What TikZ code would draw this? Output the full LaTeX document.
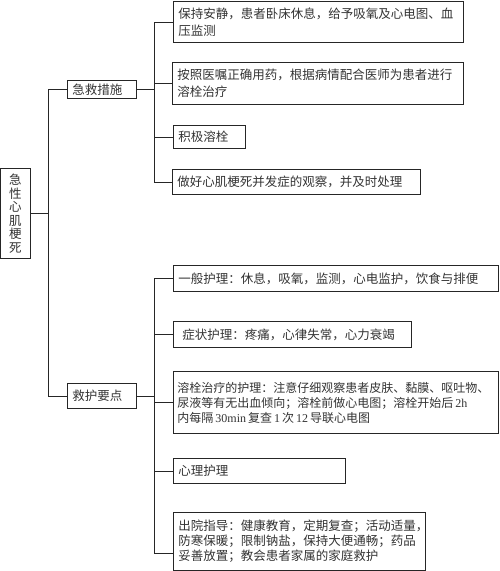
\documentclass[tikz,border=0pt]{standalone}
\usepackage{fontspec}
\setmainfont{Liberation Serif}
\newfontfamily\cjk{Noto Sans CJK SC}
\newfontfamily\lat{Liberation Serif}
\usetikzlibrary{calc,positioning}

\tikzset{
  box/.style={draw=black!85, line width=0.9pt, rectangle, anchor=north west,
    align=left, inner xsep=5pt, inner ysep=1pt, text=black!80,
    font=\fontsize{12.5pt}{15pt}\selectfont\cjk},
  wide/.style={font=\fontsize{12.5pt}{17pt}\selectfont\cjk},
  link/.style={draw=black!85, line width=0.9pt}
}

\begin{document}
\begin{tikzpicture}[x=1pt, y=-1pt]
    \useasboundingbox (0,0) rectangle (500,571);
    \node[box, align=center, inner xsep=1pt, minimum width=30, minimum height=90,
      font=\fontsize{12.5pt}{13.5pt}\selectfont\cjk] (root) at (0,168) {急\\性\\心\\肌\\梗\\死};
    \node[box, text width=59, minimum height=18] (jj) at (67,80) {急救措施};
    \node[box, text width=59, minimum height=25] (hl) at (67,383) {救护要点};

    \node[box, wide, text width=280, minimum height=41] (a1) at (173,1) {保持安静，患者卧床休息，给予吸氧及心电图、血\\压监测};
    \node[box, wide, text width=281, minimum height=42] (a2) at (172,62) {按照医嘱正确用药，根据病情配合医师为患者进行\\溶栓治疗};
    \node[box, text width=62, minimum height=23] (a3) at (173,125) {积极溶栓};
    \node[box, text width=238, minimum height=25] (a4) at (172,169) {做好心肌梗死并发症的观察，并及时处理};

    \node[box, text width=315, minimum height=26] (c1) at (173,265) {一般护理：休息，吸氧，监测，心电监护，饮食与排便};
    \node[box, text width=228, minimum height=26] (c2) at (173,321) {\hspace{4pt}症状护理：疼痛，心律失常，心力衰竭};
    \node[box, text width=317, inner xsep=4pt, minimum height=62,
      font=\fontsize{12pt}{15pt}\selectfont\cjk] (c3) at (173,371) {溶栓治疗的护理：注意仔细观察患者皮肤、黏膜、呕吐物、\\尿液等有无出血倾向；溶栓前做心电图；溶栓开始后\,{\lat 2h}\\内每隔\,{\lat 30min}\,复查\,{\lat 1}\,次\,{\lat 12}\,导联心电图};
    \node[box, text width=162, minimum height=25] (c4) at (173,458) {心理护理};
    \node[box, text width=242, minimum height=58] (c5) at (173,512) {出院指导：健康教育，定期复查；活动适量，\\防寒保暖；限制钠盐，保持大便通畅；药品\\妥善放置；教会患者家属的家庭救护};

    \coordinate (t0) at (48,0);
    \coordinate (br) at (154,0);
    \coordinate (c5in) at ([yshift=-12pt]c5.west);

    \draw[link] (root.east) -- (root.east -| t0);
    \draw[link] (jj.west) -- (jj.west -| t0) -- (hl.west -| t0) -- (hl.west);

    \draw[link] (jj.east) -- (jj.east -| br);
    \draw[link] (a1.west) -- (a1.west -| br) -- (a4.west -| br) -- (a4.west);
    \foreach \n in {a2,a3}
        \draw[link] (\n.west) -- (\n.west -| br);

    \draw[link] (hl.east) -- (hl.east -| br);
    \draw[link] (c1.west) -- (c1.west -| br) -- (c5in -| br) -- (c5in);
    \foreach \n in {c2,c3,c4}
        \draw[link] (\n.west) -- (\n.west -| br);
\end{tikzpicture}
\end{document}
